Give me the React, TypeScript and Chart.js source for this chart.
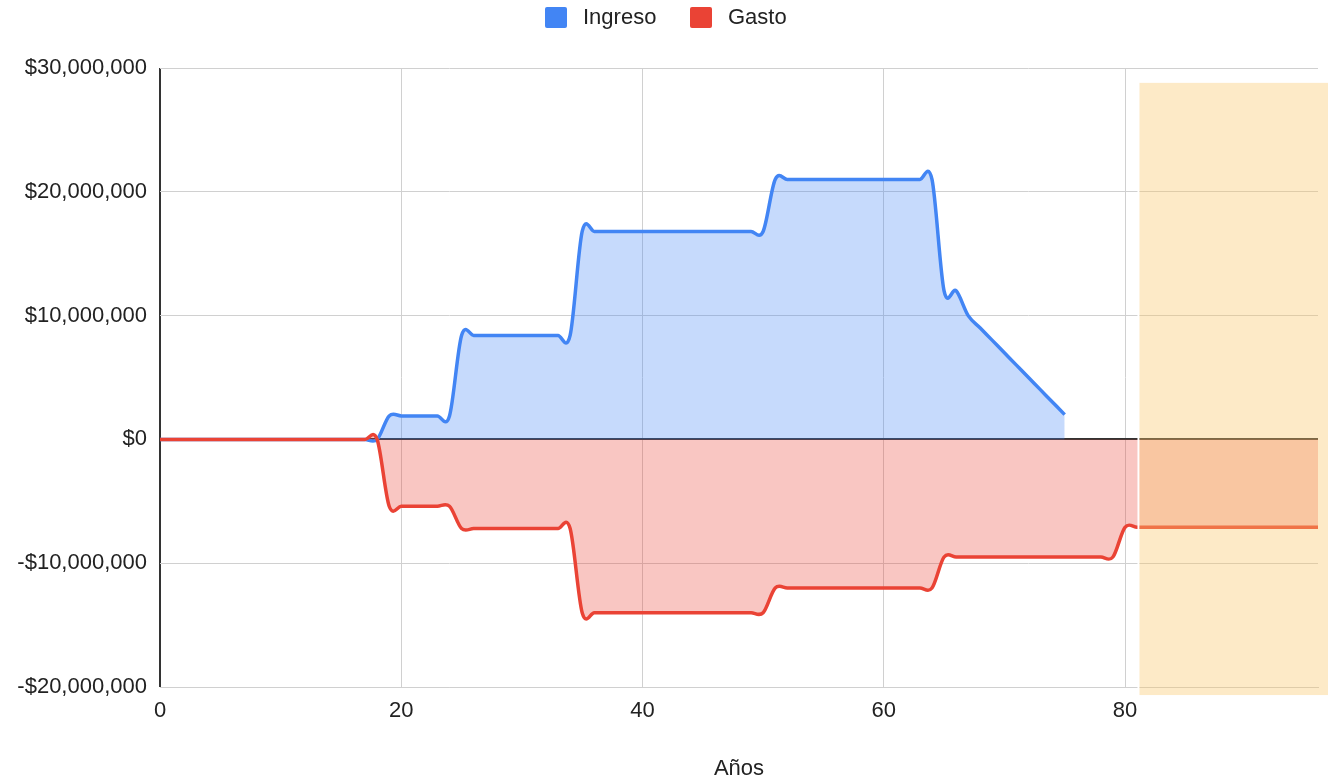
import { useEffect, useRef } from 'react';
import { Chart, registerables } from 'chart.js';

Chart.register(...registerables);

// Age (years) for every sample
const ages = [
  0, 1, 2, 3, 4, 5, 6, 7, 8, 9, 10, 11, 12, 13, 14, 15, 16, 17, 18, 19,
  20, 21, 22, 23, 24, 25, 26, 27, 28, 29, 30, 31, 32, 33, 34, 35, 36, 37, 38, 39,
  40, 41, 42, 43, 44, 45, 46, 47, 48, 49, 50, 51, 52, 53, 54, 55, 56, 57, 58, 59,
  60, 61, 62, 63, 64, 65, 66, 67, 68, 69, 70, 71, 72, 73, 74, 75, 76, 77, 78, 79,
  80, 81, 82, 83, 84, 85, 86, 87, 88, 89, 90, 91, 92, 93, 94, 95, 96,
];

// Yearly income (ages 0..75)
const ingreso = [
  0, 0, 0, 0, 0, 0, 0, 0, 0, 0, 0, 0, 0, 0, 0, 0, 0, 0, 0,
  1900000, 1900000, 1900000, 1900000, 1900000, 1900000,
  8400000, 8400000, 8400000, 8400000, 8400000, 8400000, 8400000, 8400000, 8400000, 8400000,
  16800000, 16800000, 16800000, 16800000, 16800000, 16800000, 16800000, 16800000,
  16800000, 16800000, 16800000, 16800000, 16800000, 16800000, 16800000, 16800000,
  21000000, 21000000, 21000000, 21000000, 21000000, 21000000, 21000000,
  21000000, 21000000, 21000000, 21000000, 21000000, 21000000, 21000000,
  12000000, 12000000, 10000000, 9000000, 8000000, 7000000, 6000000, 5000000,
  4000000, 3000000, 2000000,
];

// Yearly expenses (ages 0..96)
const gasto = [
  0, 0, 0, 0, 0, 0, 0, 0, 0, 0, 0, 0, 0, 0, 0, 0, 0, 0, 0,
  -5400000, -5400000, -5400000, -5400000, -5400000, -5400000,
  -7200000, -7200000, -7200000, -7200000, -7200000, -7200000, -7200000, -7200000, -7200000, -7200000,
  -14000000, -14000000, -14000000, -14000000, -14000000, -14000000, -14000000, -14000000,
  -14000000, -14000000, -14000000, -14000000, -14000000, -14000000, -14000000, -14000000,
  -12000000, -12000000, -12000000, -12000000, -12000000, -12000000, -12000000,
  -12000000, -12000000, -12000000, -12000000, -12000000, -12000000, -12000000,
  -9500000, -9500000, -9500000, -9500000, -9500000, -9500000, -9500000, -9500000,
  -9500000, -9500000, -9500000, -9500000, -9500000, -9500000, -9500000,
  -7100000, -7100000, -7100000, -7100000, -7100000, -7100000, -7100000, -7100000, -7100000,
  -7100000, -7100000, -7100000, -7100000, -7100000, -7100000, -7100000, -7100000,
];

const seriesNames = ['Ingreso', 'Gasto'];
const seriesLines = ['#4285f4', '#ea4335'];
const seriesFills = ['rgba(66, 133, 244, 0.3)', 'rgba(234, 67, 53, 0.3)'];

const xMin = 0;
const xMax = 96;
const xStep = 20;
const yMin = -20000000;
const yMax = 30000000;
const yStep = 10000000;

// Highlighted retirement band (age from, value top/bottom)
const bandFrom = 81.2;
const bandTop = 28800000;
const bandBottom = -20650000;

const FONT = '"Liberation Sans", Arial, Helvetica, sans-serif';

const money = (v: number) =>
  (v < 0 ? '-$' : '$') + Math.abs(v).toLocaleString('en-US');

// Uniform Catmull-Rom control points for smooth lines (overshoots at steps)
const catmullRom = {
  id: 'catmullRom',
  beforeDraw(chart: any) {
    chart.getSortedVisibleDatasetMetas().forEach((meta: any) => {
      const line = meta.dataset;
      if (!line) return;
      line.updateControlPoints(chart.chartArea, meta.indexAxis);
      const pts = meta.data;
      for (let i = 0; i < pts.length; i++) {
        const p = pts[i];
        const prev = pts[i - 1] || p;
        const next = pts[i + 1] || p;
        const dx = (next.x - prev.x) / 6;
        const dy = (next.y - prev.y) / 6;
        p.cp1x = p.x - dx;
        p.cp1y = p.y - dy;
        p.cp2x = p.x + dx;
        p.cp2y = p.y + dy;
      }
      line._pointsUpdated = true;
    });
  },
};

// Translucent band over the last years of the range
const bandOverlay = {
  id: 'bandOverlay',
  afterDraw(chart: any) {
    const { ctx, scales } = chart;
    const x0 = scales.x.getPixelForValue(bandFrom);
    const top = scales.y.getPixelForValue(bandTop);
    const bottom = scales.y.getPixelForValue(bandBottom);
    ctx.save();
    ctx.fillStyle = '#ffffff';
    ctx.fillRect(x0 - 2, top, 2, bottom - top);
    ctx.fillStyle = 'rgba(250, 198, 104, 0.37)';
    ctx.fillRect(x0, top, chart.width - x0, bottom - top);
    ctx.restore();
  },
};

export default function App() {
  const canvasRef = useRef<HTMLCanvasElement | null>(null);

  useEffect(() => {
    const prevMargin = document.body.style.margin;
    document.body.style.margin = '0';
    const canvas = canvasRef.current;
    if (!canvas) return;

    const series = [ingreso, gasto];
    const chart = new Chart(canvas, {
      type: 'line',
      data: {
        datasets: series.map((values, k) => ({
          label: seriesNames[k],
          data: values.map((v, i) => ({ x: ages[i], y: v })),
          borderColor: seriesLines[k],
          backgroundColor: seriesFills[k],
          borderWidth: 3.5,
          pointRadius: 0,
          pointHoverRadius: 0,
          tension: 0.4,
          fill: 'origin',
          order: k === 0 ? 1 : 0,
          clip: false,
        })),
      },
      options: {
        animation: false,
        responsive: true,
        maintainAspectRatio: false,
        layout: { padding: { top: 68, right: 10, left: 0, bottom: 0 } },
        plugins: {
          legend: { display: false },
          tooltip: { enabled: false },
        },
        scales: {
          x: {
            type: 'linear',
            min: xMin,
            max: xMax,
            afterFit: (s: any) => {
              s.height = 90;
            },
            ticks: {
              stepSize: xStep,
              includeBounds: false,
              padding: 11,
              color: '#222',
              font: { family: FONT, size: 22 },
            },
            grid: {
              drawTicks: false,
              lineWidth: (c: any) => (c.tick && c.tick.value === 0 ? 2 : 1),
              color: (c: any) => (c.tick && c.tick.value === 0 ? '#333' : '#d0d0d0'),
            },
            border: { display: true, color: '#d0d0d0', width: 1 },
            title: {
              display: true,
              text: 'Años',
              color: '#222',
              font: { family: FONT, size: 22, lineHeight: 0.73 },
              padding: 0,
            },
          },
          y: {
            min: yMin,
            max: yMax,
            afterFit: (s: any) => {
              s.width = 160;
            },
            ticks: {
              stepSize: yStep,
              padding: 13,
              color: '#222',
              font: { family: FONT, size: 22 },
              callback: (v: any) => money(Number(v)),
            },
            grid: {
              drawTicks: false,
              lineWidth: (c: any) => (c.tick && c.tick.value === 0 ? 2 : 1),
              color: (c: any) => (c.tick && c.tick.value === 0 ? '#333' : '#d0d0d0'),
            },
            border: { display: false },
          },
        },
      },
      plugins: [catmullRom, bandOverlay],
    });

    return () => {
      chart.destroy();
      document.body.style.margin = prevMargin;
    };
  }, []);

  const legendText: React.CSSProperties = {
    position: 'absolute',
    top: 4,
    fontFamily: FONT,
    fontSize: 22,
    lineHeight: '26px',
    color: '#222',
    whiteSpace: 'nowrap',
  };
  const swatch = (color: string, left: number): React.CSSProperties => ({
    position: 'absolute',
    left,
    top: 7,
    width: 22,
    height: 21,
    borderRadius: 2,
    background: color,
  });

  return (
    <div style={{ position: 'fixed', left: 0, top: 0, width: 1328, height: 777, background: '#fff' }}>
      <canvas ref={canvasRef} />
      <div style={swatch(seriesLines[0], 545)} />
      <div style={{ ...legendText, left: 583 }}>{seriesNames[0]}</div>
      <div style={swatch(seriesLines[1], 690)} />
      <div style={{ ...legendText, left: 728 }}>{seriesNames[1]}</div>
    </div>
  );
}
